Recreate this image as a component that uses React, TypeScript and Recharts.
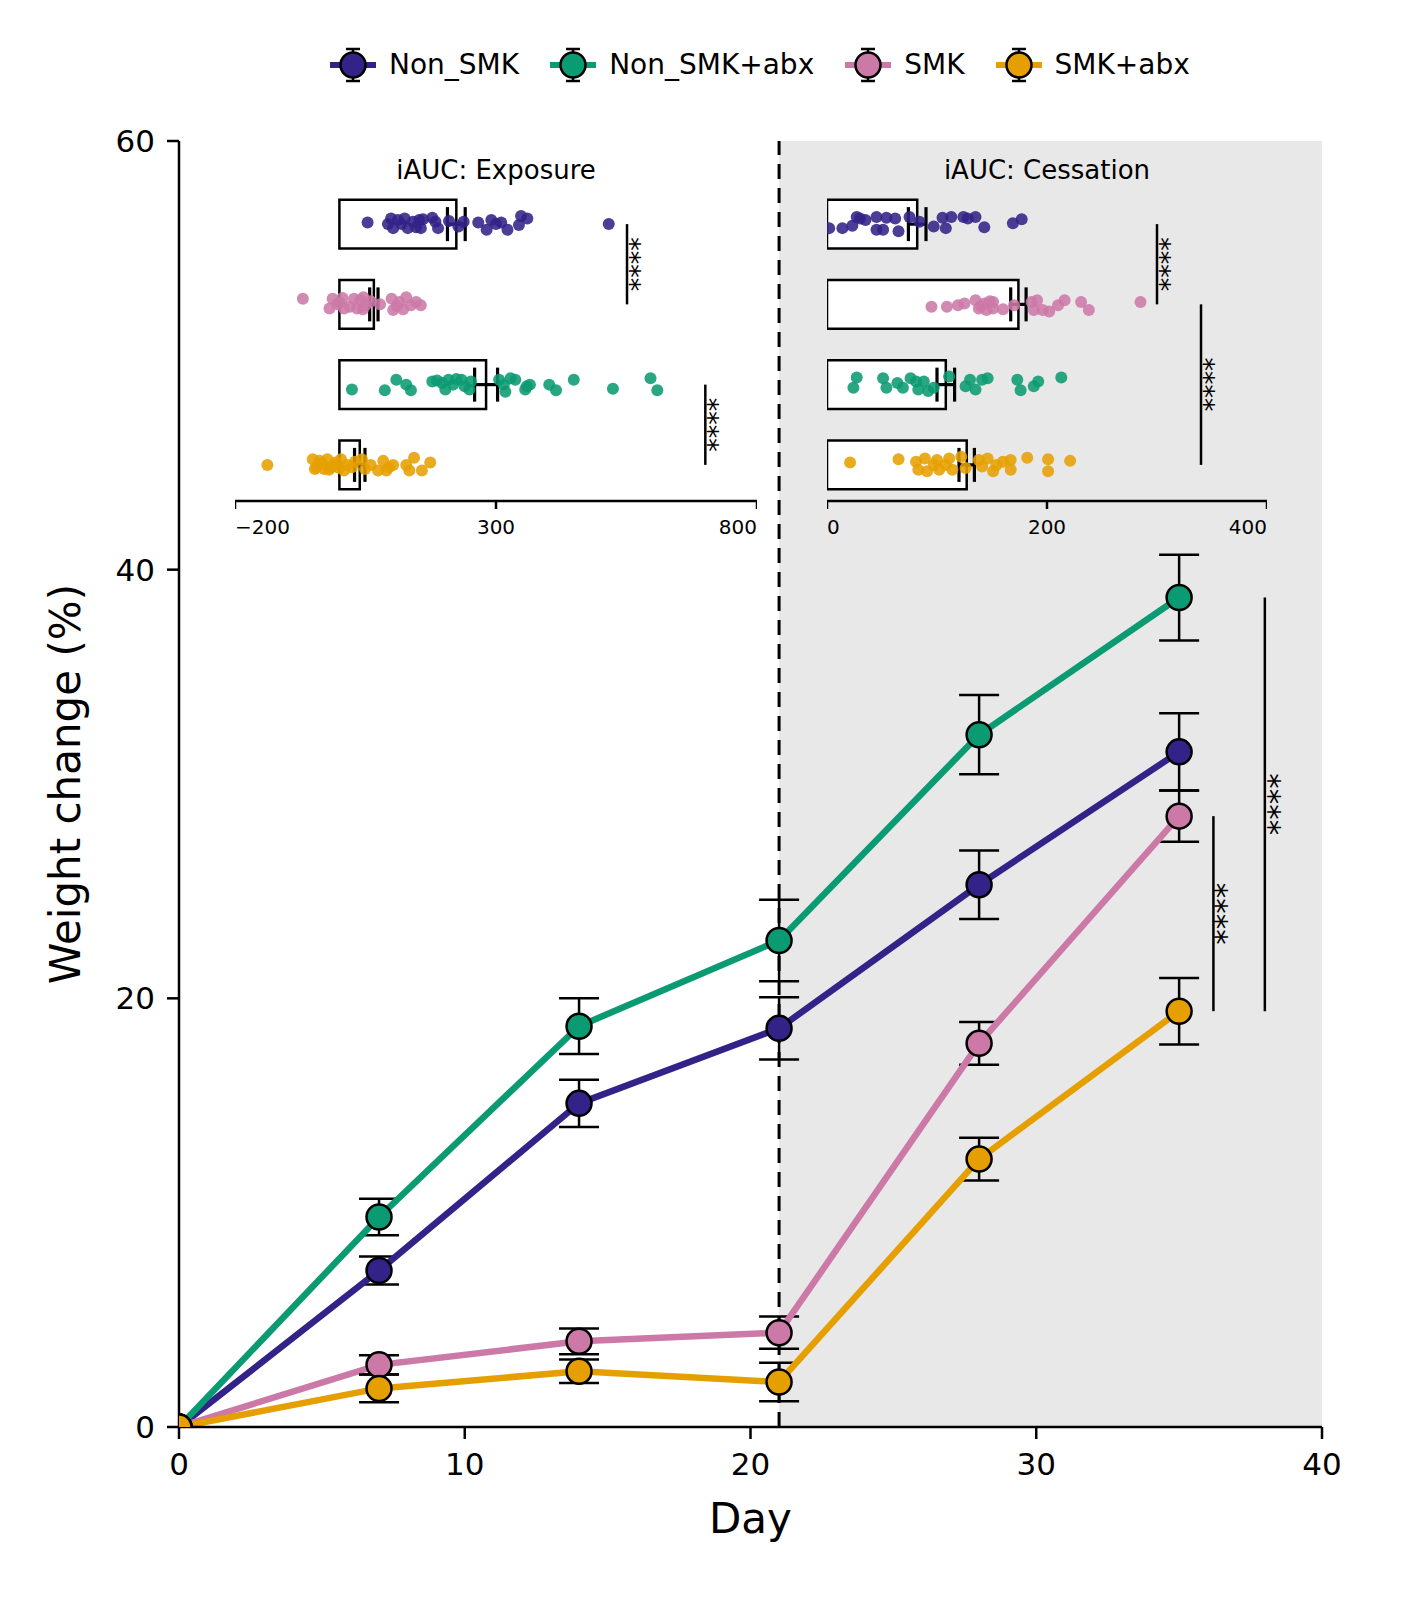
import React from 'react';
import {
  ComposedChart,
  Line,
  Scatter,
  XAxis,
  YAxis,
  ErrorBar,
  ReferenceArea,
  ReferenceLine,
  ReferenceDot,
} from 'recharts';

const FONT = '"DejaVu Sans", "Liberation Sans", sans-serif';

// ---------- main chart data ----------
const groupNames = ['Non_SMK', 'Non_SMK+abx', 'SMK', 'SMK+abx'];
const groupColors = ['#332288', '#0b9b72', '#cc79a7', '#e69f00'];

const days = [0, 7, 14, 21, 28, 35];
const nonSmkMean = [0, 7.3, 15.1, 18.6, 25.3, 31.5];
const nonSmkSem = [0, 0.65, 1.1, 1.45, 1.6, 1.8];
const nonSmkAbxMean = [0, 9.8, 18.7, 22.7, 32.3, 38.7];
const nonSmkAbxSem = [0, 0.85, 1.3, 1.9, 1.85, 2.0];
const smkMean = [0, 2.9, 4.0, 4.4, 17.9, 28.5];
const smkSem = [0, 0.45, 0.6, 0.75, 1.0, 1.2];
const smkAbxMean = [0, 1.8, 2.6, 2.1, 12.5, 19.4];
const smkAbxSem = [0, 0.65, 0.55, 0.9, 1.0, 1.55];

const xTicks = [0, 10, 20, 30, 40];
const yTicks = [0, 20, 40, 60];
const cessationDay = 21;

const mainSigLines = [
  { x: 36.2, y1: 28.5, y2: 19.4 },
  { x: 38.0, y1: 38.7, y2: 19.4 },
];
const mainSigStars = [
  { x: 36.6, y: 23.95 },
  { x: 38.45, y: 29.05 },
];

// ---------- inset data (rows: Non_SMK, SMK, Non_SMK+abx, SMK+abx) ----------
const insetRowColors = ['#332288', '#cc79a7', '#0b9b72', '#e69f00'];

const exposureTicks = [-200, 300, 800];
const exposureMeans = [224, 66, 281, 39];
const exposureSems = [17, 8, 22, 10];

const expNonSmkX = [54, 93, 99, 103, 112, 119, 125, 131, 141, 147, 153, 156, 160, 178, 184, 189, 210, 228, 238, 266, 282, 291, 300, 310, 322, 344, 348, 360, 516];
const expNonSmkJ = [-0.02, 0, -0.07, 0.05, -0.05, 0, -0.07, 0.05, -0.03, 0.04, -0.05, 0.05, -0.06, -0.08, -0.03, 0.05, -0.04, 0.03, -0.03, -0.02, 0.07, -0.05, 0, -0.02, 0.07, 0.01, -0.1, -0.07, 0];
const expSmkX = [-70, -19, -13, -4, 0, 6, 9, 20, 28, 34, 40, 45, 46, 50, 60, 78, 100, 103, 110, 115, 122, 128, 137, 147, 156];
const expSmkJ = [-0.07, 0.05, -0.07, 0, -0.02, -0.08, 0.05, 0.03, -0.07, 0.05, -0.05, 0.06, -0.09, 0.01, -0.04, 0, -0.07, 0.07, 0.02, -0.03, 0.06, -0.09, 0.01, -0.03, 0.01];
const expNonSmkAbxX = [24, 87, 109, 128, 137, 178, 187, 197, 203, 209, 218, 224, 234, 240, 249, 252, 306, 315, 318, 328, 337, 356, 359, 365, 402, 415, 449, 524, 596, 609];
const expNonSmkAbxJ = [0.06, 0.07, -0.06, 0, 0.07, -0.04, -0.05, -0.02, 0.06, -0.06, 0, -0.07, -0.06, 0.02, 0.06, -0.04, -0.06, 0, 0.09, -0.08, -0.06, 0.06, 0.02, 0, 0, 0.07, -0.06, 0.05, -0.08, 0.07];
const expSmkAbxX = [-138, -51, -47, -44, -38, -33, -29, -23, -20, -16, -10, -7, 0, 3, 9, 15, 24, 30, 43, 49, 60, 74, 84, 90, 95, 103, 128, 134, 143, 158, 174];
const expSmkAbxJ = [0, -0.07, 0.05, 0.03, -0.05, -0.02, 0.05, -0.07, 0.06, 0.03, 0.01, -0.03, 0.04, -0.07, 0.07, 0, 0.03, -0.04, -0.07, 0.05, 0, 0.07, -0.05, 0.07, 0.03, 0, 0, 0.07, -0.09, 0.07, -0.03];

const exposureSigLines = [
  { x: 551, r1: 0, r2: 1 },
  { x: 701, r1: 2, r2: 3 },
];
const exposureSigStars = [
  { x: 570, r: 0.5 },
  { x: 720, r: 2.5 },
];

const cessationTicks = [0, 200, 400];
const cessationMeans = [82, 174, 108, 127];
const cessationSems = [8, 7, 8, 7];

const cesNonSmkX = [2, 14, 23, 27, 30, 35, 45, 45, 51, 54, 62, 65, 75, 84, 97, 105, 108, 113, 124, 128, 135, 143, 169, 177];
const cesNonSmkJ = [0.05, 0.05, 0.02, -0.09, -0.07, -0.05, -0.09, 0.07, 0.07, -0.08, -0.07, 0.09, -0.09, -0.03, 0.03, -0.08, 0.05, -0.09, -0.09, -0.07, -0.09, 0.04, -0.01, -0.06];
const cesSmkX = [95, 109, 119, 125, 135, 138, 140, 143, 145, 148, 151, 151, 160, 170, 186, 188, 191, 196, 202, 210, 216, 231, 238, 285];
const cesSmkJ = [0.03, 0.03, 0.01, -0.01, -0.05, 0.05, 0.02, -0.01, 0.07, -0.04, -0.03, 0.05, 0.06, 0.01, -0.03, 0.07, -0.05, 0.07, 0.09, 0.01, -0.05, -0.03, 0.07, -0.03];
const cesNonSmkAbxX = [24, 27, 51, 54, 64, 69, 76, 81, 83, 88, 92, 97, 111, 126, 130, 135, 141, 146, 173, 176, 188, 192, 213];
const cesNonSmkAbxJ = [0.04, -0.09, -0.08, 0.04, -0.02, 0.04, -0.08, -0.04, 0.06, -0.04, 0.08, 0.04, -0.1, 0.02, -0.06, 0.06, -0.06, -0.08, -0.06, 0.07, 0.02, -0.04, -0.09];
const cesSmkAbxX = [21, 65, 81, 83, 89, 91, 97, 100, 102, 108, 111, 114, 122, 126, 138, 141, 146, 151, 154, 160, 167, 167, 182, 201, 201, 221];
const cesSmkAbxJ = [-0.03, -0.07, -0.04, 0.06, -0.08, 0.08, 0, -0.06, 0.06, 0, -0.08, 0.06, -0.1, 0.04, -0.06, 0.02, -0.08, 0.08, 0, -0.04, 0.06, -0.06, -0.09, -0.07, 0.08, -0.05];

const cessationSigLines = [
  { x: 300, r1: 0, r2: 1 },
  { x: 340, r1: 1, r2: 3 },
];
const cessationSigStars = [
  { x: 309, r: 0.5 },
  { x: 349, r: 2 },
];

// ---------- helpers ----------
const mainData = days.map((d, i) => ({
  day: d,
  nonSmk: nonSmkMean[i],
  nonSmkErr: nonSmkSem[i],
  nonSmkAbx: nonSmkAbxMean[i],
  nonSmkAbxErr: nonSmkAbxSem[i],
  smk: smkMean[i],
  smkErr: smkSem[i],
  smkAbx: smkAbxMean[i],
  smkAbxErr: smkAbxSem[i],
}));
const mainKeys = ['nonSmk', 'nonSmkAbx', 'smk', 'smkAbx'];

const starShape = (size: number) => (p: any) => (
  <text
    x={p.cx}
    y={p.cy}
    transform={`rotate(90 ${p.cx} ${p.cy})`}
    textAnchor="middle"
    dominantBaseline="central"
    dy="0.24em"
    fontSize={size}
    fontFamily={FONT}
    fill="#000"
  >
    ****
  </text>
);

const fmt = (v: number) => (v < 0 ? '\u2212' + Math.abs(v) : String(v));

const insetTick = (domain: number[]) => (p: any) => {
  const v = p.payload.value;
  const anchor = v === domain[0] ? 'start' : v === domain[1] ? 'end' : 'middle';
  return (
    <text x={p.x} y={p.y} dy="0.71em" textAnchor={anchor} fontSize={20} fontFamily={FONT} fill="#000">
      {fmt(v)}
    </text>
  );
};

const dotShape = (color: string) => (p: any) => (
  <circle cx={p.cx} cy={p.cy} r={6} fill={color} fillOpacity={0.88} />
);
const noShape = () => <g />;

const INSET_TOP = 180;
const INSET_H = 358;
const INSET_AXIS_H = 45;

function Inset(props: any) {
  const { left, width, domain, ticks, means, sems, dotsX, dotsJ, sigLines, sigStars, title } = props;
  const dotSets = dotsX.map((xs: number[], r: number) => xs.map((x, i) => ({ x, y: r + dotsJ[r][i] })));
  const meanData = means.map((m: number, r: number) => ({ x: m, y: r, err: sems[r] }));
  return (
    <div style={{ position: 'absolute', left, top: INSET_TOP, width, height: INSET_H }}>
      <div
        style={{
          position: 'absolute',
          left: 0,
          top: -31,
          width,
          textAlign: 'center',
          fontSize: 26,
          lineHeight: '26px',
          fontFamily: FONT,
          color: '#000',
          whiteSpace: 'nowrap',
        }}
      >
        {title}
      </div>
      <ComposedChart width={width} height={INSET_H} margin={{ top: 0, right: 0, bottom: 0, left: 0 }}>
        <XAxis
          type="number"
          dataKey="x"
          domain={domain}
          ticks={ticks}
          interval={0}
          allowDataOverflow
          height={INSET_AXIS_H}
          tickSize={8}
          tickMargin={11}
          axisLine={{ stroke: '#000', strokeWidth: 2.5 }}
          tickLine={{ stroke: '#000', strokeWidth: 2.5 }}
          tick={insetTick(domain)}
        />
        <YAxis type="number" dataKey="y" domain={[-0.45, 3.45]} reversed hide allowDataOverflow />
        {means.map((m: number, r: number) => (
          <ReferenceArea
            key={'box' + r}
            x1={0}
            x2={m}
            y1={r - 0.305}
            y2={r + 0.305}
            fill="#ffffff"
            fillOpacity={1}
            stroke="#000"
            strokeWidth={2.5}
          />
        ))}
        {dotSets.map((ds: any[], r: number) => (
          <Scatter
            key={'dots' + r}
            data={ds}
            isAnimationActive={false}
            shape={dotShape(insetRowColors[r])}
          />
        ))}
        <Scatter data={meanData} isAnimationActive={false} shape={noShape}>
          <ErrorBar dataKey="err" direction="x" width={17} stroke="#000" strokeWidth={3.2} />
        </Scatter>
        {sigLines.map((s: any, i: number) => (
          <ReferenceLine
            key={'sl' + i}
            segment={[
              { x: s.x, y: s.r1 },
              { x: s.x, y: s.r2 },
            ]}
            stroke="#000"
            strokeWidth={2.5}
          />
        ))}
        {sigStars.map((s: any, i: number) => (
          <ReferenceDot key={'ss' + i} x={s.x} y={s.r} r={1} shape={starShape(27)} />
        ))}
      </ComposedChart>
    </div>
  );
}

function LegendIcon({ color }: { color: string }) {
  return (
    <svg width={46} height={40} style={{ display: 'block' }}>
      <line x1={0} y1={20} x2={46} y2={20} stroke={color} strokeWidth={6} />
      <line x1={23} y1={4} x2={23} y2={36} stroke="#000" strokeWidth={2.5} />
      <line x1={16} y1={4} x2={30} y2={4} stroke="#000" strokeWidth={2.5} />
      <line x1={16} y1={36} x2={30} y2={36} stroke="#000" strokeWidth={2.5} />
      <circle cx={23} cy={20} r={12.5} fill={color} stroke="#000" strokeWidth={2.5} />
    </svg>
  );
}

export default function App() {
  return (
    <div style={{ position: 'relative', width: 1389, height: 1570, fontFamily: FONT, background: '#fff' }}>
      <ComposedChart
        width={1389}
        height={1560}
        data={mainData}
        margin={{ top: 133, right: 75, bottom: 41, left: 0 }}
      >
        <ReferenceArea x1={cessationDay} x2={40} y1={0} y2={60} fill="#e8e8e8" fillOpacity={1} stroke="none" />
        <ReferenceLine x={cessationDay} stroke="#000" strokeWidth={3} strokeDasharray="15 9" />
        <XAxis
          type="number"
          dataKey="day"
          domain={[0, 40]}
          ticks={xTicks}
          interval={0}
          allowDataOverflow
          height={100}
          tickSize={12}
          tickMargin={14}
          axisLine={{ stroke: '#000', strokeWidth: 2.5 }}
          tickLine={{ stroke: '#000', strokeWidth: 2.5 }}
          tick={{ fill: '#000', fontSize: 31, fontFamily: FONT }}
          label={{
            value: 'Day',
            position: 'insideBottom',
            offset: -6,
            style: { fontSize: 42, fontFamily: FONT, fill: '#000' },
          }}
        />
        <YAxis
          type="number"
          domain={[0, 60]}
          ticks={yTicks}
          interval={0}
          allowDataOverflow
          width={171}
          tickSize={12}
          tickMargin={12}
          axisLine={{ stroke: '#000', strokeWidth: 2.5 }}
          tickLine={{ stroke: '#000', strokeWidth: 2.5 }}
          tick={{ fill: '#000', fontSize: 31, fontFamily: FONT }}
          label={{
            value: 'Weight change (%)',
            angle: -90,
            position: 'insideLeft',
            offset: 57,
            style: { textAnchor: 'middle', fontSize: 42, fontFamily: FONT, fill: '#000' },
          }}
        />
        {mainKeys.map((k, i) => (
          <Line
            key={k}
            type="linear"
            dataKey={k}
            name={groupNames[i]}
            stroke={groupColors[i]}
            strokeWidth={6.5}
            dot={{ r: 12.5, fill: groupColors[i], stroke: '#000', strokeWidth: 2.5 }}
            activeDot={false}
            isAnimationActive={false}
          >
            <ErrorBar dataKey={k + 'Err'} width={20} stroke="#000" strokeWidth={2.5} direction="y" />
          </Line>
        ))}
        {mainSigLines.map((s, i) => (
          <ReferenceLine
            key={'msl' + i}
            segment={[
              { x: s.x, y: s.y1 },
              { x: s.x, y: s.y2 },
            ]}
            stroke="#000"
            strokeWidth={2.5}
          />
        ))}
        {mainSigStars.map((s, i) => (
          <ReferenceDot key={'mss' + i} x={s.x} y={s.y} r={1} shape={starShape(31)} />
        ))}
      </ComposedChart>

      <Inset
        left={227}
        width={522}
        domain={[-200, 800]}
        ticks={exposureTicks}
        means={exposureMeans}
        sems={exposureSems}
        dotsX={[expNonSmkX, expSmkX, expNonSmkAbxX, expSmkAbxX]}
        dotsJ={[expNonSmkJ, expSmkJ, expNonSmkAbxJ, expSmkAbxJ]}
        sigLines={exposureSigLines}
        sigStars={exposureSigStars}
        title="iAUC: Exposure"
      />
      <Inset
        left={819}
        width={440}
        domain={[0, 400]}
        ticks={cessationTicks}
        means={cessationMeans}
        sems={cessationSems}
        dotsX={[cesNonSmkX, cesSmkX, cesNonSmkAbxX, cesSmkAbxX]}
        dotsJ={[cesNonSmkJ, cesSmkJ, cesNonSmkAbxJ, cesSmkAbxJ]}
        sigLines={cessationSigLines}
        sigStars={cessationSigStars}
        title="iAUC: Cessation"
      />

      <div style={{ position: 'absolute', left: 322, top: 37, height: 40, display: 'flex', alignItems: 'center' }}>
        {groupNames.map((n, i) => (
          <div key={n} style={{ display: 'flex', alignItems: 'center', marginRight: 31 }}>
            <LegendIcon color={groupColors[i]} />
            <span style={{ marginLeft: 13, fontSize: 28, fontFamily: FONT, color: '#000', lineHeight: '40px' }}>{n}</span>
          </div>
        ))}
      </div>
    </div>
  );
}
